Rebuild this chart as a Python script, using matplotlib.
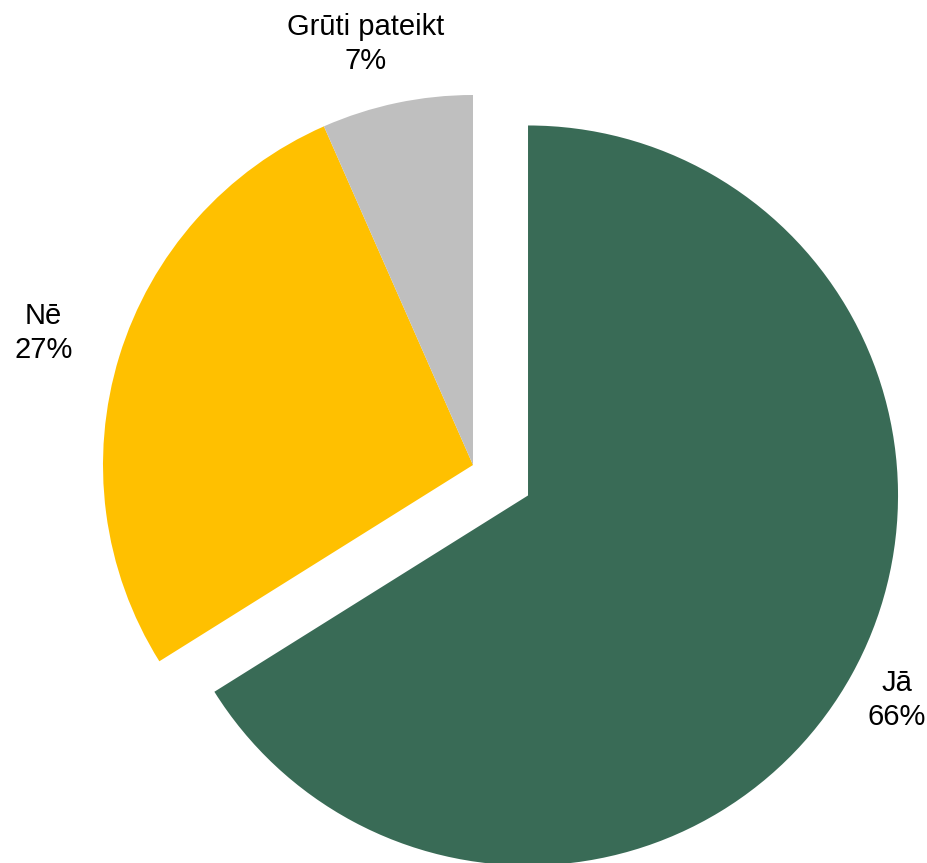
import numpy as np
import matplotlib
matplotlib.use("Agg")
import matplotlib.pyplot as plt

labels = ["Jā", "Nē", "Grūti pateikt"]
values = [66.1, 27.3, 6.6]
colors = ["#396B56", "#FFC000", "#BFBFBF"]
explode = [0.17, 0, 0]
label_dist = [1.14, 1.215, 1.175]
label_angle_shift = [0.0, 0.0, 2.4]

plt.rcParams['font.family'] = ['Liberation Sans', 'DejaVu Sans']

fig = plt.figure(figsize=(9.28, 8.63), dpi=100)
ax = fig.add_axes([0, 0, 1, 1])
R = 370.0
cx, cy = 473.0, 863 - 465.0

wedges, _ = ax.pie(values, colors=colors, explode=explode, startangle=90,
                   counterclock=False, radius=1.0, center=(0, 0),
                   frame=True, wedgeprops=dict(linewidth=0))
ax.set_xlim(-cx / R, (928 - cx) / R)
ax.set_ylim(-cy / R, (863 - cy) / R)
ax.set_aspect('equal')
ax.axis('off')

for w, lab, v, ex, ld, da in zip(wedges, labels, values, explode, label_dist, label_angle_shift):
    ang = np.deg2rad((w.theta1 + w.theta2) / 2 + da)
    x = np.cos(ang) * (ld + ex)
    y = np.sin(ang) * (ld + ex)
    ax.text(x, y, f"{lab}\n{round(v):d}%", ha='center', va='center', fontsize=21,
            linespacing=1.27, color='black')

fig.savefig("out.png", dpi=100)
